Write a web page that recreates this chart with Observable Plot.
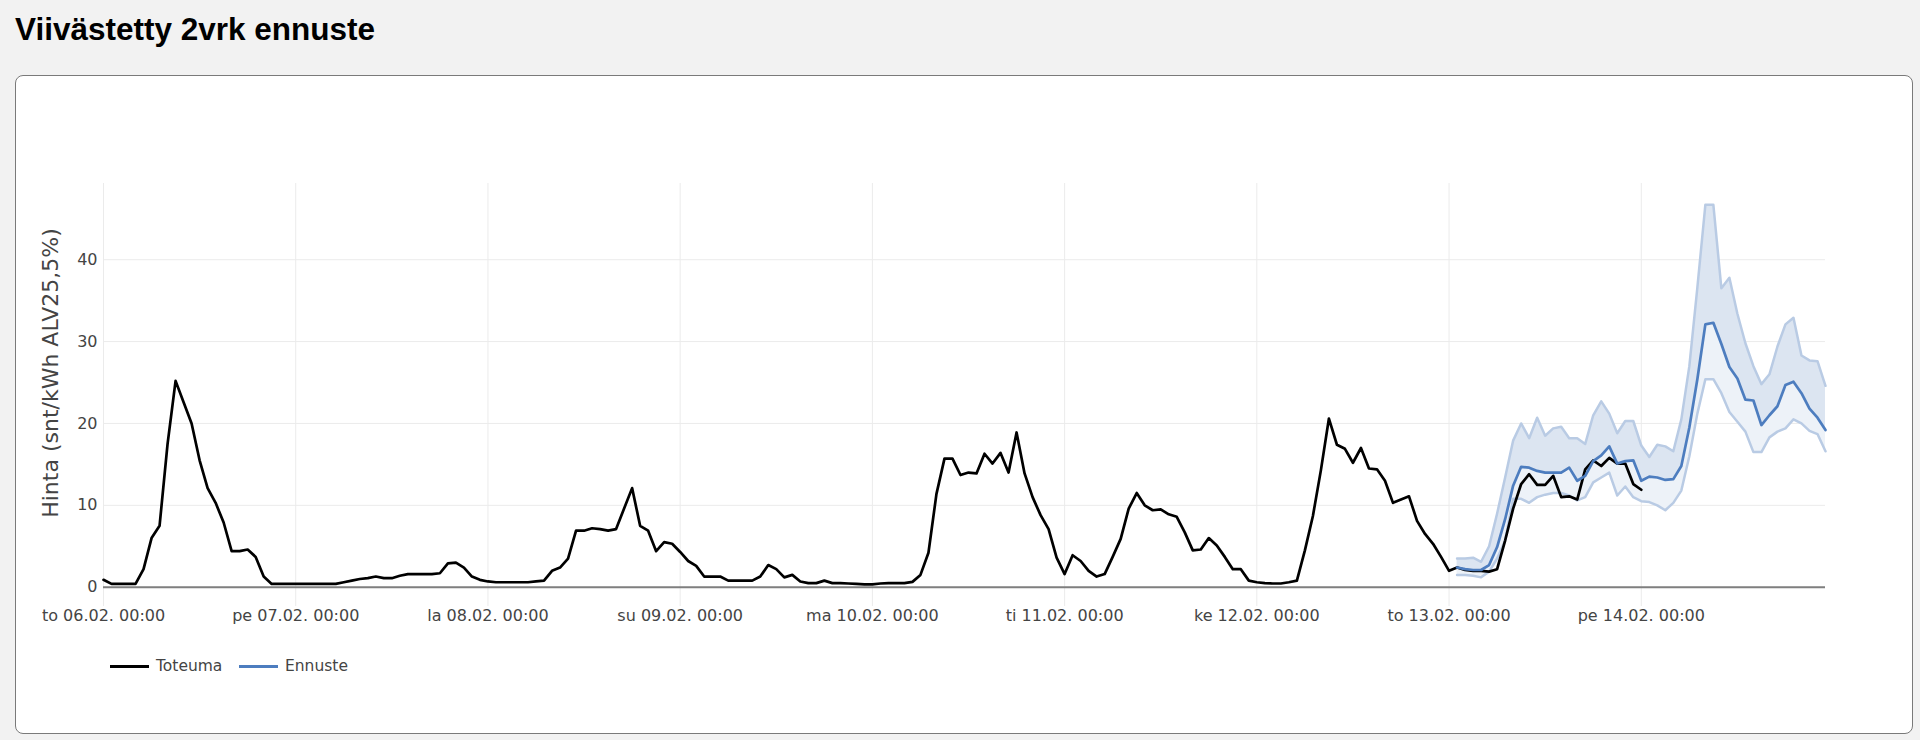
<!DOCTYPE html>
<html>
<head>
<meta charset="utf-8">
<script src="https://cdn.jsdelivr.net/npm/d3@7"></script>
<script src="https://cdn.jsdelivr.net/npm/@observablehq/plot@0.6"></script>
<style>
  html, body { margin: 0; padding: 0; background: #f2f2f2; width: 1920px; height: 740px; overflow: hidden; }
  #title { position: absolute; left: 15px; top: 13px; margin: 0; font: bold 31.5px "Liberation Sans", Arial, sans-serif; line-height: 32px; color: #000; }
  #card { position: absolute; left: 15px; top: 75px; width: 1896px; height: 657px; border: 1px solid #7a7a7a; border-radius: 8px; background: #fff; }
  #chart { position: absolute; left: 20px; top: 150px; }
  .sw { position: absolute; height: 3px; top: 665px; }
  .lt { position: absolute; top: 656px; font: 15.5px "DejaVu Sans", Verdana, sans-serif; line-height: 20px; color: #444; }
</style>
</head>
<body>
<div id="title">Viivästetty 2vrk ennuste</div>
<div id="card"></div>
<div id="chart"></div>
<div id="legend"></div>
<script>
// ---- data ----
const toteumaStart = Date.UTC(2025, 1, 6, 0);   // to 06.02. 00:00, hourly
const toteuma = [
  0.9,0.4,0.4,0.4,0.4,2.2,6.0,7.5,17.5,25.2,22.6,20.0,15.5,12.1,10.3,7.9,4.4,4.4,4.6,3.7,1.3,0.4,0.4,0.4,
  0.4,0.4,0.4,0.4,0.4,0.4,0.6,0.8,1.0,1.1,1.3,1.1,1.1,1.4,1.6,1.6,1.6,1.6,1.7,2.9,3.0,2.4,1.3,0.9,
  0.7,0.6,0.6,0.6,0.6,0.6,0.7,0.8,2.0,2.4,3.5,6.9,6.9,7.2,7.1,6.9,7.1,9.6,12.1,7.5,6.9,4.4,5.5,5.3,
  4.3,3.2,2.6,1.3,1.3,1.3,0.8,0.8,0.8,0.8,1.3,2.7,2.2,1.2,1.5,0.7,0.5,0.5,0.8,0.5,0.5,0.45,0.4,0.35,
  0.35,0.45,0.5,0.5,0.5,0.65,1.5,4.2,11.4,15.7,15.7,13.7,14.0,13.9,16.3,15.1,16.4,14.0,18.9,13.9,11.0,8.8,7.1,3.6,
  1.6,3.9,3.2,2.0,1.3,1.6,3.7,5.9,9.6,11.5,10.0,9.4,9.5,8.9,8.6,6.7,4.5,4.6,6.0,5.1,3.7,2.2,2.2,0.8,
  0.6,0.5,0.45,0.45,0.6,0.8,4.5,8.7,14.3,20.6,17.4,16.9,15.2,17.0,14.5,14.4,13.0,10.3,10.7,11.1,8.1,6.5,5.3,3.7,
  2.0,2.4,2.1,2.0,2.0,1.9,2.2,5.7,9.6,12.6,13.8,12.5,12.5,13.6,11.0,11.1,10.7,14.4,15.5,14.8,15.8,15.1,15.1,12.6,
  11.9
];
const ennusteStart = Date.UTC(2025, 1, 13, 1);  // to 13.02. 01:00, hourly
const ennuste = [
  2.4,2.2,2.1,2.1,2.7,4.9,8.3,12.4,14.7,14.6,14.2,14.0,14.0,14.0,14.6,13.0,13.6,15.4,16.1,17.2,15.1,15.4,15.5,
  13.0,13.5,13.4,13.1,13.2,14.8,19.5,25.4,32.1,32.3,29.7,26.9,25.5,22.9,22.8,19.8,21.0,22.1,24.7,25.1,23.7,21.8,20.7,19.2
];
const ennusteYla = [
  3.5,3.5,3.6,3.1,5.0,9.0,13.4,17.9,20.0,18.2,20.7,18.5,19.4,19.6,18.2,18.2,17.5,21.0,22.7,21.2,18.8,20.3,20.3,
  17.3,15.9,17.4,17.2,16.6,20.5,27.0,36.6,46.7,46.7,36.5,37.8,33.4,29.8,27.0,24.8,26.0,29.4,32.1,32.9,28.3,27.7,27.6,24.6
];
const ennusteAla = [
  1.5,1.5,1.4,1.2,1.9,3.5,5.7,10.8,10.8,10.3,11.0,11.3,11.5,11.5,11.2,10.6,11.0,12.8,13.4,14.0,11.2,12.3,11.0,
  10.5,10.4,10.0,9.4,10.3,11.8,16.0,21.2,25.4,25.4,23.7,21.4,20.2,19.0,16.5,16.5,18.3,19.0,19.4,20.5,20.0,19.1,18.7,16.6
];
const xTickLabels = ["to 06.02. 00:00","pe 07.02. 00:00","la 08.02. 00:00","su 09.02. 00:00","ma 10.02. 00:00","ti 11.02. 00:00","ke 12.02. 00:00","to 13.02. 00:00","pe 14.02. 00:00"];
const yTicks = [0, 10, 20, 30, 40];
const yLabel = "Hinta (snt/kWh ALV25,5%)";
const seriesNames = ["Toteuma", "Ennuste"];
const seriesColors = ["#000000", "#4d7dbf"];

// ---- build tables ----
const HOUR = 3600e3;
const actual = toteuma.map((v, i) => ({time: new Date(toteumaStart + i * HOUR), value: v}));
const forecast = ennuste.map((v, i) => ({time: new Date(ennusteStart + i * HOUR), mean: v, upper: ennusteYla[i], lower: ennusteAla[i]}));
const dayTicks = xTickLabels.map((_, i) => new Date(toteumaStart + i * 24 * HOUR));
const labelOf = new Map(dayTicks.map((d, i) => [+d, xTickLabels[i]]));
const xEnd = forecast[forecast.length - 1].time;

const chart = Plot.plot({
  width: 1880, height: 500,
  marginLeft: 83, marginRight: 75, marginTop: 33, marginBottom: 44,
  style: {background: "transparent", fontFamily: '"DejaVu Sans", Verdana, sans-serif', fontSize: "16px", color: "#444", overflow: "visible"},
  x: {type: "utc", domain: [actual[0].time, xEnd]},
  y: {domain: [-2.36, 49.31]},
  marks: [
    Plot.gridY(yTicks, {stroke: "#ebebeb", strokeOpacity: 1, strokeWidth: 1}),
    Plot.gridX(dayTicks, {stroke: "#ebebeb", strokeOpacity: 1, strokeWidth: 1}),
    Plot.ruleY([0], {stroke: "#7f7f7f", strokeWidth: 2}),
    Plot.areaY(forecast, {x: "time", y1: "lower", y2: "mean", fill: "#edf2f8"}),
    Plot.areaY(forecast, {x: "time", y1: "mean", y2: "upper", fill: "#dce5f1"}),
    Plot.lineY(forecast, {x: "time", y: "upper", stroke: "#b9cbe4", strokeWidth: 2.5}),
    Plot.lineY(forecast, {x: "time", y: "lower", stroke: "#b9cbe4", strokeWidth: 2.5}),
    Plot.lineY(actual, {x: "time", y: "value", stroke: seriesColors[0], strokeWidth: 2.7}),
    Plot.lineY(forecast, {x: "time", y: "mean", stroke: seriesColors[1], strokeWidth: 2.7}),
    Plot.axisY(yTicks, {tickSize: 0, tickPadding: 6, label: null, fontSize: 16}),
    Plot.axisX(dayTicks, {tickSize: 0, tickPadding: 3, label: null, fontSize: 16, tickFormat: d => labelOf.get(+d)}),
    Plot.text([yLabel], {text: d => d, frameAnchor: "left", textAnchor: "middle", dx: -53, dy: -22, rotate: -90, fontSize: 22, fill: "#444"})
  ]
});
document.getElementById("chart").appendChild(chart);

// ---- legend ----
const legend = document.getElementById("legend");
const swX = [110, 239], txX = [156, 285];
seriesNames.forEach((name, i) => {
  const sw = document.createElement("div");
  sw.className = "sw"; sw.style.left = swX[i] + "px"; sw.style.width = "39px"; sw.style.background = seriesColors[i];
  legend.appendChild(sw);
  const t = document.createElement("div");
  t.className = "lt"; t.style.left = txX[i] + "px"; t.textContent = name;
  legend.appendChild(t);
});
</script>
</body>
</html>
